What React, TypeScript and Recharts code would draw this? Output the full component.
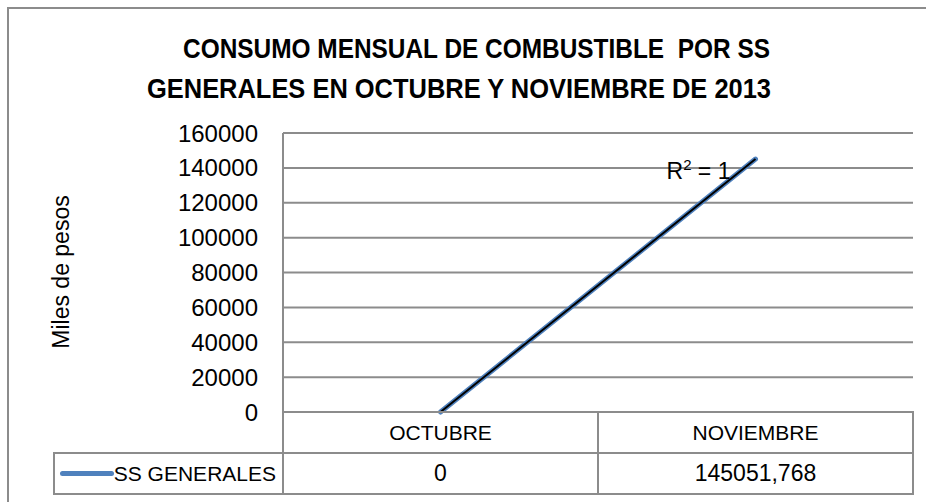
import React from "react";
import { LineChart, Line, XAxis, YAxis, CartesianGrid, ReferenceDot } from "recharts";

const categories = ["OCTUBRE", "NOVIEMBRE"];
const ssGenerales = [0, 145051.768];
const yTicks = [0, 20000, 40000, 60000, 80000, 100000, 120000, 140000, 160000];
const titleLines = ["CONSUMO MENSUAL DE COMBUSTIBLE  POR SS", "GENERALES EN OCTUBRE Y NOVIEMBRE DE 2013"];
const seriesName = "SS GENERALES";
const yLabel = "Miles de pesos";

const FONT = "'Liberation Sans', Arial, sans-serif";
const GRID = "#8c8c8c";
const BLUE = "#4F81BD";

function linearFit(ys: number[]) {
  const n = ys.length;
  const xs = ys.map((_, i) => i);
  const mx = xs.reduce((a, b) => a + b, 0) / n;
  const my = ys.reduce((a, b) => a + b, 0) / n;
  let sxy = 0, sxx = 0, syy = 0;
  for (let i = 0; i < n; i++) {
    sxy += (xs[i] - mx) * (ys[i] - my);
    sxx += (xs[i] - mx) ** 2;
    syy += (ys[i] - my) ** 2;
  }
  const slope = sxy / sxx;
  const intercept = my - slope * mx;
  const r2 = syy === 0 ? 1 : (sxy * sxy) / (sxx * syy);
  return { fitted: xs.map((x) => intercept + slope * x), r2 };
}

const fit = linearFit(ssGenerales);
const data = categories.map((c, i) => ({ cat: c, v: ssGenerales[i], trend: fit.fitted[i] }));
const fmt = (v: number) => String(v).replace(".", ",");

// table geometry (layout only)
const colX = [54, 283, 598, 913];
const rowY = [412, 453, 494];

function Cell({ x0, x1, y0, y1, children, justify = "center", pad = 0 }: any) {
  return (
    <div
      style={{
        position: "absolute",
        left: x0 - 1,
        top: y0 - 1,
        width: x1 - x0 + 2,
        height: y1 - y0 + 2,
        border: `2px solid ${GRID}`,
        boxSizing: "border-box",
        display: "flex",
        alignItems: "center",
        justifyContent: justify,
        paddingRight: pad,
        fontFamily: FONT,
        color: "#000",
      }}
    >
      {children}
    </div>
  );
}

const R2Label = (props: any) => {
  const vb = props.viewBox || {};
  const cx = vb.x + (vb.width || 0) / 2;
  const cy = vb.y + (vb.height || 0) / 2;
  return (
    <text x={cx - 25} y={cy + 20} textAnchor="end" fontFamily={FONT} fontSize={23} fill="#000">
      R<tspan fontSize={15} dy={-9}>2</tspan>
      <tspan dy={9}>{` = ${Math.round(fit.r2 * 10000) / 10000}`}</tspan>
    </text>
  );
};

export default function App() {
  return (
    <div style={{ position: "absolute", left: 0, top: 0, width: 926, height: 502, overflow: "hidden", background: "#fff" }}>
      <div
        style={{
          position: "absolute",
          left: 7,
          top: 7,
          width: 960,
          height: 540,
          border: `2px solid ${GRID}`,
          boxSizing: "border-box",
        }}
      />
      <div style={{ position: "absolute", left: 0, top: 0 }}>
        <LineChart width={926} height={502} data={data} margin={{ top: 133, right: 13, bottom: 90, left: 0 }}>
          <CartesianGrid vertical={false} stroke={GRID} strokeWidth={2} />
          <XAxis dataKey="cat" hide scale="band" />
          <YAxis
            width={283}
            domain={[0, 160000]}
            ticks={yTicks}
            interval={0}
            tickLine={false}
            tickMargin={19}
            axisLine={{ stroke: GRID, strokeWidth: 2 }}
            tick={{ fill: "#000", fontSize: 24, fontFamily: FONT }}
          />
          <Line dataKey="v" name={seriesName} stroke={BLUE} strokeWidth={5} strokeLinecap="round" dot={false} isAnimationActive={false} />
          <Line dataKey="trend" stroke="#000" strokeWidth={2} dot={false} isAnimationActive={false} />
          <ReferenceDot x={categories[1]} y={fit.fitted[1]} r={1} fill="none" stroke="none" label={<R2Label />} />
        </LineChart>
      </div>
      <svg width={926} height={502} style={{ position: "absolute", left: 0, top: 0, pointerEvents: "none" }}>
        <text x={183} y={58} fontFamily={FONT} fontWeight="bold" fontSize={28} textLength={587} lengthAdjust="spacingAndGlyphs" fill="#000" style={{ whiteSpace: "pre" }}>
          {titleLines[0]}
        </text>
        <text x={147} y={98} fontFamily={FONT} fontWeight="bold" fontSize={28} textLength={624} lengthAdjust="spacingAndGlyphs" fill="#000">
          {titleLines[1]}
        </text>
        <text x={0} y={0} transform="translate(69 272) rotate(-90)" textAnchor="middle" fontFamily={FONT} fontSize={23} fill="#000">
          {yLabel}
        </text>
      </svg>
      {categories.map((c, i) => (
        <Cell key={c} x0={colX[i + 1]} x1={colX[i + 2]} y0={rowY[0]} y1={rowY[1]}>
          <span style={{ fontSize: 21 }}>{c}</span>
        </Cell>
      ))}
      <Cell x0={colX[0]} x1={colX[1]} y0={rowY[1]} y1={rowY[2]} justify="flex-end" pad={6}>
        <span style={{ display: "inline-block", width: 54, height: 5, borderRadius: 3, background: BLUE }} />
        <span style={{ fontSize: 21 }}>{seriesName}</span>
      </Cell>
      {ssGenerales.map((v, i) => (
        <Cell key={i} x0={colX[i + 1]} x1={colX[i + 2]} y0={rowY[1]} y1={rowY[2]}>
          <span style={{ fontSize: 23 }}>{fmt(v)}</span>
        </Cell>
      ))}
    </div>
  );
}
